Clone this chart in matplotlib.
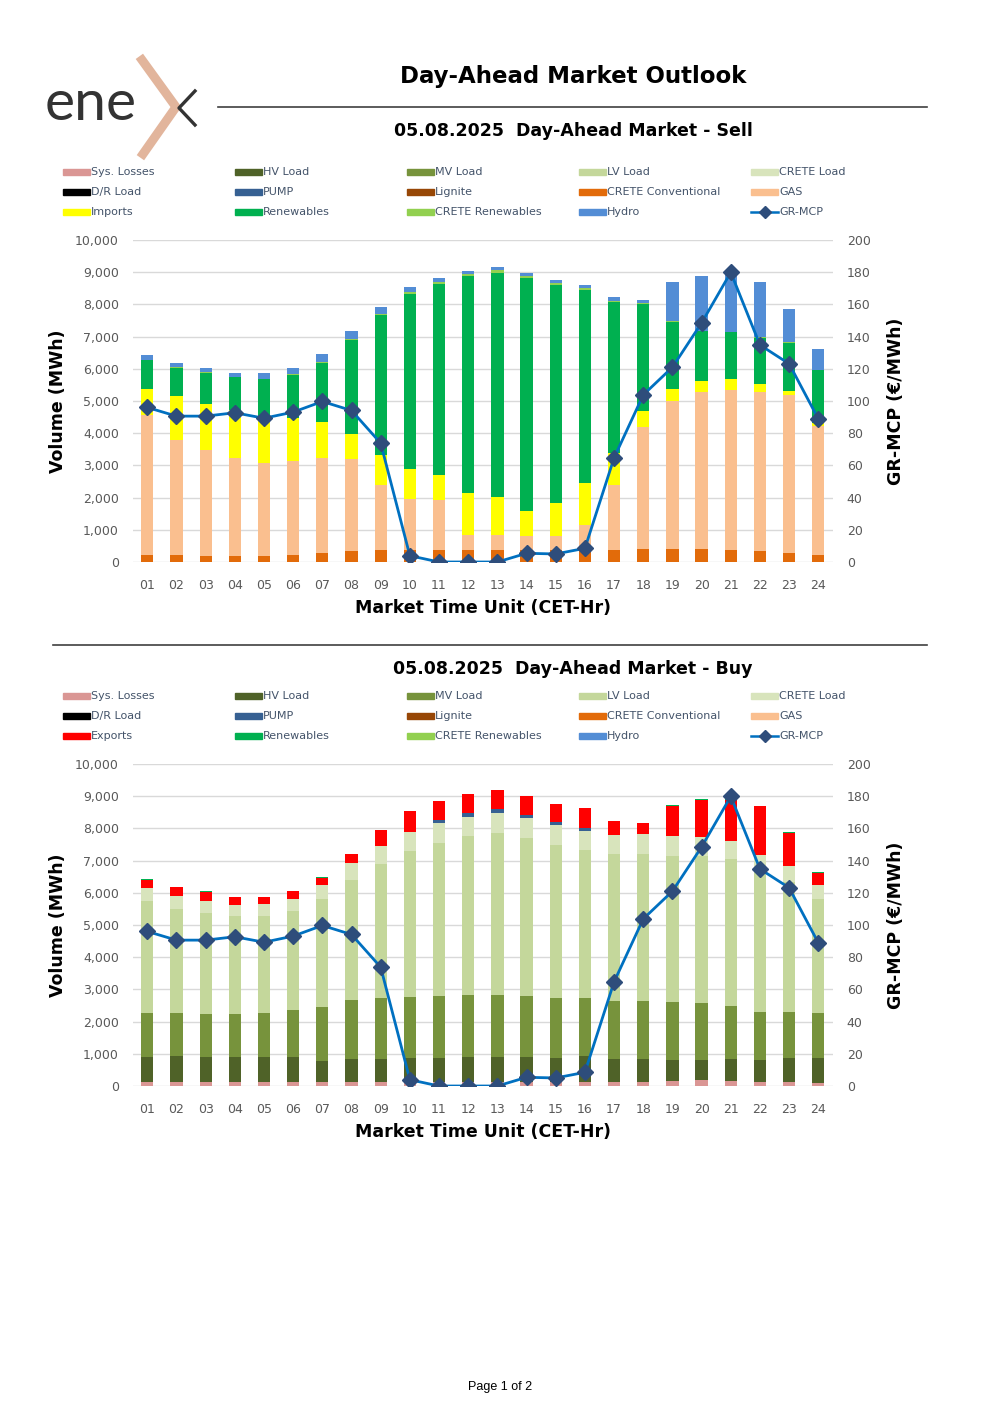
import matplotlib
matplotlib.use("Agg")
import matplotlib.pyplot as plt
from matplotlib.lines import Line2D
from matplotlib.patches import Rectangle
import numpy as np

hours = ["01", "02", "03", "04", "05", "06", "07", "08", "09", "10", "11", "12",
         "13", "14", "15", "16", "17", "18", "19", "20", "21", "22", "23", "24"]

# GR-MCP (EUR/MWh)
mcp = [96.0, 90.6, 90.6, 92.7, 89.3, 93.1, 99.7, 94.1, 73.8, 3.9, 0.0, 0.0,
       0.0, 5.4, 5.0, 8.5, 64.7, 103.8, 121.0, 148.5, 179.9, 134.8, 123.1, 88.9]

# sell side (MWh)
sell_crete_conv = [227, 207, 196, 196, 196, 217, 269, 331, 362, 383, 383, 372,
                   372, 362, 362, 362, 383, 414, 414, 393, 383, 331, 290, 228]
sell_gas = [4344, 3588, 3279, 3041, 2875, 2906, 2957, 2875, 2016, 1582, 1530, 455,
            455, 455, 434, 796, 2016, 3785, 4591, 4881, 4963, 4953, 4901, 3991]
sell_imports = [817, 1345, 1447, 1489, 1396, 1344, 1117, 775, 952, 920, 796, 1314,
                1179, 755, 1024, 1293, 983, 475, 362, 352, 352, 249, 124, 104]
sell_renewables = [885, 900, 950, 1010, 1215, 1350, 1840, 2925, 4330, 5450, 5935, 6730,
                   6980, 7250, 6775, 5998, 4705, 3340, 2100, 1550, 1437, 1437, 1500, 1634]
sell_crete_ren = [15, 15, 15, 15, 15, 15, 15, 15, 30, 35, 50, 70,
                  80, 60, 70, 70, 30, 30, 20, 10, 10, 10, 10, 10]
sell_hydro = [135, 120, 140, 130, 185, 205, 270, 250, 230, 160, 140, 105,
              95, 105, 85, 85, 105, 105, 1220, 1700, 1755, 1707, 1045, 651]

# buy side (MWh)
buy_sys_losses = [110, 110, 110, 110, 110, 110, 110, 110, 110, 110, 110, 110,
                  110, 110, 110, 110, 110, 110, 155, 176, 166, 135, 124, 83]
buy_hv = [792, 823, 792, 792, 781, 781, 678, 740, 729, 750, 760, 792,
          792, 781, 771, 812, 729, 729, 664, 643, 663, 673, 757, 787]
buy_mv = [1367, 1336, 1347, 1336, 1378, 1472, 1678, 1813, 1897, 1917, 1938, 1927,
          1927, 1897, 1855, 1814, 1814, 1803, 1782, 1751, 1648, 1503, 1430, 1389]
buy_lv = [3462, 3234, 3119, 3026, 2995, 3057, 3327, 3741, 4166, 4518, 4746, 4933,
          5036, 4922, 4756, 4601, 4559, 4570, 4549, 4570, 4580, 4489, 4039, 3554]
buy_crete = [424, 393, 383, 363, 373, 393, 445, 508, 559, 591, 601, 601,
             622, 611, 601, 570, 591, 612, 601, 580, 560, 371, 489, 415]
buy_pump = [0, 0, 0, 0, 0, 0, 0, 0, 0, 0, 104, 124,
            124, 104, 94, 114, 0, 0, 0, 0, 0, 0, 0, 0]
buy_exports = [239, 270, 270, 228, 218, 228, 218, 280, 487, 642, 580, 580,
               591, 580, 580, 611, 435, 331, 954, 1161, 1253, 1511, 1016, 373]
buy_renewables = [30, 20, 20, 25, 25, 20, 25, 0, 0, 0, 0, 0,
                  0, 0, 0, 0, 0, 20, 30, 30, 30, 20, 25, 30]

sell_legend = ["Sys. Losses", "HV Load", "MV Load", "LV Load", "CRETE Load",
               "D/R Load", "PUMP", "Lignite", "CRETE Conventional", "GAS",
               "Imports", "Renewables", "CRETE Renewables", "Hydro", "GR-MCP"]
buy_legend = ["Sys. Losses", "HV Load", "MV Load", "LV Load", "CRETE Load",
              "D/R Load", "PUMP", "Lignite", "CRETE Conventional", "GAS",
              "Exports", "Renewables", "CRETE Renewables", "Hydro", "GR-MCP"]

colors = {"Sys. Losses": "#DA9694", "HV Load": "#4F6228", "MV Load": "#77933C",
          "LV Load": "#C4D79B", "CRETE Load": "#D8E4BC", "D/R Load": "#000000",
          "PUMP": "#366092", "Lignite": "#974706", "CRETE Conventional": "#E26B0A",
          "GAS": "#FABF8F", "Imports": "#FFFF00", "Exports": "#FF0000",
          "Renewables": "#00B050", "CRETE Renewables": "#92D050", "Hydro": "#538DD5"}
LINE_C = "#0070C0"
MARK_C = "#2E4D7B"
TXT = "#44546A"

W, H = 1000, 1415
fig = plt.figure(figsize=(10, 14.15), dpi=100)
plt.rcParams['font.family'] = ['DejaVu Sans']


def fx(x):
    return x / W


def fy(y):
    return 1 - y / H


# logo
fig.text(fx(45), fy(104), "ene", fontsize=41, color="#333333", family="Lato",
         va="center", ha="left")
fig.add_artist(Line2D([fx(142), fx(176), fx(143)], [fy(60), fy(107), fy(154)],
                      color="#E2B59C", lw=6.5, solid_joinstyle="miter"))
fig.add_artist(Line2D([fx(195), fx(179), fx(195)], [fy(91), fy(108), fy(125)],
                      color="#333333", lw=2.4))

# header
fig.text(fx(573), fy(76), "Day-Ahead Market Outlook", fontsize=16.5, fontweight="bold",
         ha="center", va="center")
fig.add_artist(Line2D([fx(218), fx(927)], [fy(107), fy(107)], color="#404040", lw=1.2))
fig.add_artist(Line2D([fx(53), fx(927)], [fy(645), fy(645)], color="#404040", lw=1.2))
fig.text(fx(500), fy(1387), "Page 1 of 2", fontsize=9, family="Liberation Sans",
         ha="center", va="center")


def draw_legend(labels, y0):
    xs = [63, 235, 407, 579, 751]
    for i, lab in enumerate(labels):
        r, c = divmod(i, 5)
        x = xs[c]
        y = y0 + r * 20
        if lab == "GR-MCP":
            fig.add_artist(Line2D([fx(x), fx(x + 27)], [fy(y), fy(y)], color=LINE_C, lw=1.8))
            fig.add_artist(Line2D([fx(x + 13.5)], [fy(y)], marker="D", color=MARK_C,
                                  markersize=6, lw=0))
        else:
            fig.add_artist(Rectangle((fx(x), fy(y + 3)), 27 / W, 6 / H,
                                     color=colors[lab], transform=fig.transFigure))
        fig.text(fx(x + 28), fy(y), lab, fontsize=8, color=TXT, va="center", ha="left")


def draw_chart(top, title_y, title, leg, series, names):
    fig.text(fx(573), fy(title_y), title, fontsize=12.5, fontweight="bold",
             ha="center", va="center")
    draw_legend(leg, top)
    ax = fig.add_axes([fx(132.7), fy(top + 390), 700.2 / W, 322 / H])
    x = np.arange(len(hours))
    bottom = np.zeros(len(hours))
    for vals, nm in zip(series, names):
        ax.bar(x, vals, 0.42, bottom=bottom, color=colors[nm], zorder=2)
        bottom += np.array(vals)
    ax.set_xlim(-0.5, 23.5)
    ax.set_ylim(0, 10000)
    ax.set_yticks(range(0, 10001, 1000))
    ax.set_yticklabels([f"{v:,}" for v in range(0, 10001, 1000)])
    ax.set_xticks(x)
    ax.set_xticklabels(hours)
    ax.grid(axis="y", color="#D9D9D9", lw=1, zorder=0)
    for s in ax.spines.values():
        s.set_visible(False)
    ax.tick_params(length=0, labelsize=9, colors="#595959", pad=10)
    ax.tick_params(axis="x", pad=12)
    ax.set_xlabel("Market Time Unit (CET-Hr)", fontsize=12.5, fontweight="bold", labelpad=5)
    ax.set_ylabel("Volume (MWh)", fontsize=12.5, fontweight="bold", labelpad=6)
    ax2 = ax.twinx()
    ax2.plot(x, mcp, color=LINE_C, lw=2, marker="D", markersize=8,
             markerfacecolor=MARK_C, markeredgecolor=MARK_C, zorder=3)
    ax2.set_ylim(0, 200)
    ax2.set_yticks(range(0, 201, 20))
    for s in ax2.spines.values():
        s.set_visible(False)
    ax2.tick_params(length=0, labelsize=9, colors="#595959", pad=10)
    ax2.set_ylabel("GR-MCP (€/MWh)", fontsize=12.5, fontweight="bold", labelpad=12)


draw_chart(172, 131, "05.08.2025  Day-Ahead Market - Sell", sell_legend,
           [sell_crete_conv, sell_gas, sell_imports, sell_renewables, sell_crete_ren, sell_hydro],
           ["CRETE Conventional", "GAS", "Imports", "Renewables", "CRETE Renewables", "Hydro"])
draw_chart(696, 669, "05.08.2025  Day-Ahead Market - Buy", buy_legend,
           [buy_sys_losses, buy_hv, buy_mv, buy_lv, buy_crete, buy_pump, buy_exports, buy_renewables],
           ["Sys. Losses", "HV Load", "MV Load", "LV Load", "CRETE Load", "PUMP", "Exports", "Renewables"])

fig.savefig("out.png", dpi=100)
